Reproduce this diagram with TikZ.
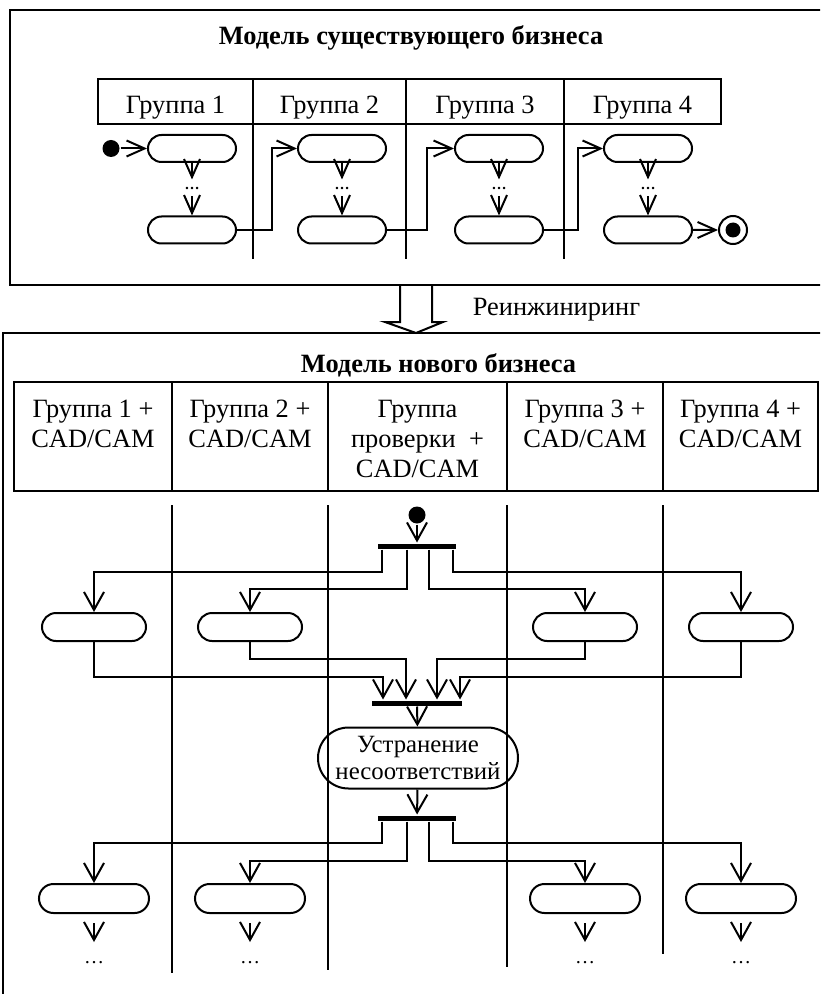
\documentclass[tikz,border=0pt]{standalone}
\usepackage{fontspec}
\setmainfont{Liberation Serif}
\usetikzlibrary{arrows.meta,shapes.misc}
\begin{document}
\begin{tikzpicture}[x=0.5pt,y=-0.5pt,line width=1pt,
  txt/.style={font=\fontsize{13.2}{15}\selectfont,inner sep=0pt},
  ttl/.style={font=\fontsize{13.2}{15}\selectfont\bfseries,inner sep=0pt},
  frame/.style={line width=1.2pt},
  arr/.style={-{Straight Barb[length=9pt,width=10pt]}},
  arrs/.style={-{Straight Barb[length=9pt,width=8pt]}},
  acts/.style={draw,rounded rectangle,minimum width=44pt,minimum height=13.5pt,inner sep=0pt},
  act/.style={draw,rounded rectangle,minimum width=52pt,minimum height=14pt,inner sep=0pt},
  actb/.style={draw,rounded rectangle,minimum width=55pt,minimum height=14.5pt,inner sep=0pt},
  bar/.style={fill=black,inner sep=0pt,minimum height=2.5pt,minimum width=39pt},
  startdot/.style={fill=black,circle,inner sep=0pt,minimum size=8.5pt},
  vdots/.style={font=\fontsize{7.5}{7.5}\selectfont\bfseries,inner sep=0pt,minimum height=7.5pt},
  edots/.style={font=\fontsize{10}{10}\selectfont,inner sep=0pt,minimum height=20pt},
]
\useasboundingbox (0,0) rectangle (820,994);
\clip (0,0) rectangle (820,994);

% ---------- existing business ----------
\draw[frame] (10,10) rectangle (830,285);
\node[ttl,anchor=base] (title1) at (411,45) {Модель существующего бизнеса};
\draw[frame] (98,79) rectangle (721,124);
\foreach \x in {253,406,564} \draw (\x,79) -- (\x,259);
\node[txt,anchor=base] (g1) at (175.5,113.5) {Группа 1};
\node[txt,anchor=base] (g2) at (329.5,113.5) {Группа 2};
\node[txt,anchor=base] (g3) at (485,113.5) {Группа 3};
\node[txt,anchor=base] (g4) at (642.5,113.5) {Группа 4};

\node[startdot] (s0) at (111,148.5) {};
\foreach \n/\x in {1/192,2/342,3/499,4/648}{
  \node[acts] (t\n a) at (\x,148.5) {};
  \node[acts] (t\n b) at (\x,230) {};
  \node[vdots] (d\n) at (\x,188) {\dots};
  \draw[arrs] (t\n a) -- (d\n);
  \draw[arrs] (d\n) -- (t\n b);
}
\draw[arrs] (s0) -- (t1a);
\coordinate (k12) at (272,148.5);
\coordinate (k23) at (427,148.5);
\coordinate (k34) at (578,148.5);
\draw[arrs] (t1b) -| (k12) -- (t2a);
\draw[arrs] (t2b) -| (k23) -- (t3a);
\draw[arrs] (t3b) -| (k34) -- (t4a);
\node[draw,circle,inner sep=0pt,minimum size=14pt] (fin) at (733,230) {};
\fill (fin.center) circle[radius=3.75pt];
\draw[arrs] (t4b) -- (fin);

% ---------- transition arrow ----------
\draw (400,285) -- (400,322) -- (385,322) -- (416,333) -- (443,322) -- (432,322) -- (432,285);
\node[txt,anchor=base] (reeng) at (556.5,315) {Реинжиниринг};

% ---------- new business ----------
\draw[frame] (3,333) rectangle (830,1010);
\node[ttl,anchor=base] (title2) at (438.5,372) {Модель нового бизнеса};
\draw[frame] (14,382) rectangle (818,491);
\foreach \x in {172,328,507,663} \draw[frame] (\x,382) -- (\x,491);
\node[txt,anchor=north,align=center] (h1) at (93,399) {Группа 1 +\\CAD/CAM};
\node[txt,anchor=north,align=center] (h2) at (250,399) {Группа 2 +\\CAD/CAM};
\node[txt,anchor=north,align=center] (h3) at (417.5,399) {Группа\\проверки\ \ +\\CAD/CAM};
\node[txt,anchor=north,align=center] (h4) at (585,399) {Группа 3 +\\CAD/CAM};
\node[txt,anchor=north,align=center] (h5) at (740.5,399) {Группа 4 +\\CAD/CAM};

\draw (172,505) -- (172,973);
\draw (328,505) -- (328,970);
\draw (507,505) -- (507,967);
\draw (663,505) -- (663,954);

% fork
\node[startdot] (s1) at (417,515) {};
\node[bar] (f1) at (417,546) {};
\draw[arr] (s1) -- (f1);
\node[act] (a1) at (94,627) {};
\node[act] (a2) at (250,627) {};
\node[act] (a4) at (585,627) {};
\node[act] (a5) at (741,627) {};
\coordinate (f1a) at ([xshift=-17.5pt]f1.south);
\coordinate (f1b) at ([xshift=-5pt]f1.south);
\coordinate (f1c) at ([xshift=6pt]f1.south);
\coordinate (f1d) at ([xshift=18pt]f1.south);
\draw[arr] (f1a) |- (a1 |- 0,572) -- (a1);
\draw[arr] (f1b) |- (a2 |- 0,589) -- (a2);
\draw[arr] (f1c) |- (a4 |- 0,589) -- (a4);
\draw[arr] (f1d) |- (a5 |- 0,572) -- (a5);

% join
\node[bar,minimum width=45pt] (j1) at (417,703) {};
\coordinate (j1a) at ([xshift=-17pt]j1.north);
\coordinate (j1b) at ([xshift=-5.5pt]j1.north);
\coordinate (j1c) at ([xshift=10pt]j1.north);
\coordinate (j1d) at ([xshift=21.5pt]j1.north);
\draw[arr] (a1) |- (j1a |- 0,677) -- (j1a);
\draw[arr] (a2) |- (j1b |- 0,659) -- (j1b);
\draw[arr] (a4) |- (j1c |- 0,659) -- (j1c);
\draw[arr] (a5) |- (j1d |- 0,677) -- (j1d);

\node[draw,rounded rectangle,minimum width=100pt,minimum height=30.5pt,inner sep=0pt,
      align=center,font=\fontsize{12.4}{13.5}\selectfont] (u) at (418,758)
      {Устранение\\несоответствий};
\draw[arr] (j1) -- (u);

% second fork
\node[bar] (f2) at (417,818) {};
\draw[arr] (u) -- (f2);
\node[actb] (b1) at (94,898.5) {};
\node[actb] (b2) at (250,898.5) {};
\node[actb] (b4) at (585,898.5) {};
\node[actb] (b5) at (741,898.5) {};
\coordinate (f2a) at ([xshift=-17.5pt]f2.south);
\coordinate (f2b) at ([xshift=-5pt]f2.south);
\coordinate (f2c) at ([xshift=6pt]f2.south);
\coordinate (f2d) at ([xshift=18pt]f2.south);
\draw[arr] (f2a) |- (b1 |- 0,843) -- (b1);
\draw[arr] (f2b) |- (b2 |- 0,861) -- (b2);
\draw[arr] (f2c) |- (b4 |- 0,861) -- (b4);
\draw[arr] (f2d) |- (b5 |- 0,843) -- (b5);

\foreach \n in {1,2,4,5}{
  \node[edots] (e\n) at (b\n |- 0,963) {\dots};
  \draw[arr,shorten <=4.5pt] (b\n) -- (e\n);
}
\end{tikzpicture}
\end{document}
